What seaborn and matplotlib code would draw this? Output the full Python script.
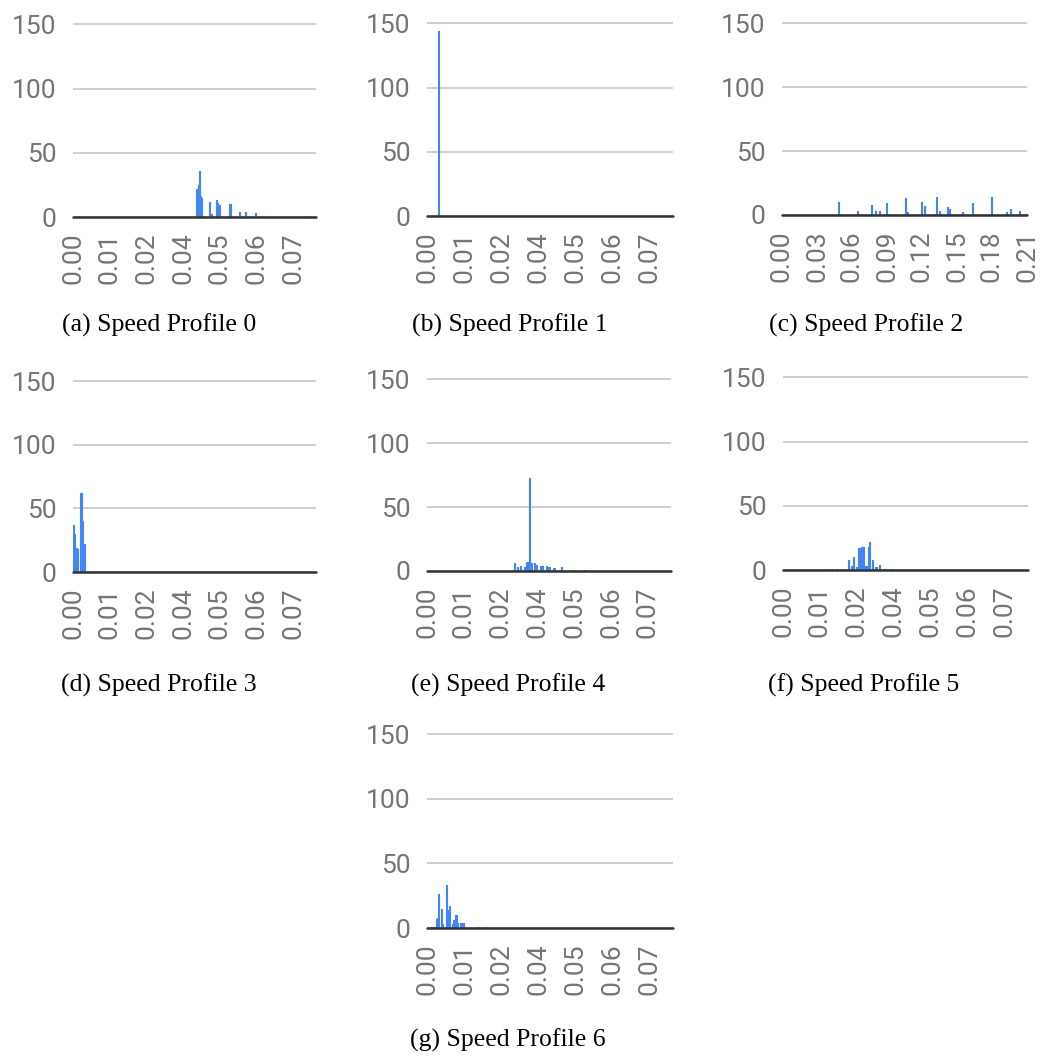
import numpy as np
import pandas as pd
import matplotlib
matplotlib.use("Agg")
import matplotlib.pyplot as plt
import seaborn as sns

# ---------------- data ----------------
captions = ["(a) Speed Profile 0", "(b) Speed Profile 1", "(c) Speed Profile 2",
            "(d) Speed Profile 3", "(e) Speed Profile 4", "(f) Speed Profile 5",
            "(g) Speed Profile 6"]

tick_labels_short = ["0.00", "0.01", "0.02", "0.04", "0.05", "0.06", "0.07"]
tick_labels_wide = ["0.00", "0.03", "0.06", "0.09", "0.12", "0.15", "0.18", "0.21"]
y_ticks = [0, 50, 100, 150]

p0_speed = [0.0405, 0.0409, 0.0413, 0.0417, 0.0421, 0.0446, 0.0452, 0.0469, 0.0473,
            0.0477, 0.0483, 0.0515, 0.0546, 0.0567, 0.0598, 0.0760]
p0_count = [22, 25, 36, 16, 15, 12, 2, 13, 11, 9, 1, 10, 4, 4, 3, 1]

p1_speed = [0.0039]
p1_count = [144]

p2_speed = [0.048, 0.0645, 0.0774, 0.0802, 0.083, 0.0897, 0.106, 0.1075, 0.1195, 0.1218,
            0.1318, 0.1347, 0.142, 0.144, 0.155, 0.164, 0.180, 0.192, 0.1957, 0.2034, 0.209]
p2_count = [10, 3, 8, 3, 3, 9, 13, 2, 10, 7, 14, 3, 6, 5, 2, 9, 14, 2, 5, 3, 1]

p3_speed = [0.0003, 0.0007, 0.0011, 0.0015, 0.0027, 0.0031, 0.0035, 0.0039]
p3_count = [37, 30, 19, 18, 62, 40, 22, 22]

p4_speed = [0.0284, 0.0295, 0.0306, 0.0317, 0.0325, 0.0333, 0.0341, 0.0350, 0.0357,
            0.0368, 0.0379, 0.0390, 0.0399, 0.0412, 0.0439, 0.0477, 0.0515]
p4_count = [6, 3, 4, 3, 7, 73, 6, 6, 5, 4, 4, 4, 3, 2, 3, 1, 1]

p5_speed = [0.0157, 0.0175, 0.0195, 0.0214, 0.0222, 0.0230, 0.0238, 0.0247, 0.0251,
            0.0255, 0.0259, 0.0263, 0.0270, 0.0277, 0.0283, 0.0290, 0.0300, 0.0314,
            0.0330, 0.0350]
p5_count = [1, 1, 1, 8, 3, 10, 2, 17, 17, 18, 18, 18, 3, 18, 22, 8, 2, 4, 1, 1]

p6_speed = [0.0014, 0.0022, 0.0028, 0.0032, 0.0038, 0.0044, 0.0050, 0.0060, 0.0066,
            0.0075, 0.0080, 0.0087, 0.0092, 0.0098, 0.0111, 0.0117, 0.0165, 0.0190]
p6_count = [1, 1, 7, 8, 26, 15, 3, 33, 14, 17, 3, 6, 10, 4, 4, 4, 1, 1]

speeds = [p0_speed, p1_speed, p2_speed, p3_speed, p4_speed, p5_speed, p6_speed]
counts = [p0_count, p1_count, p2_count, p3_count, p4_count, p5_count, p6_count]

# ---------------- style ----------------
sns.set_theme(style="white")
plt.rcParams['font.family'] = ['Roboto', 'DejaVu Sans']

BLUE = "#4285F4"
W, H = 1042, 1061
fig = plt.figure(figsize=(W / 100, H / 100), dpi=100)

# axes pixel rects (left, top, right, bottom)
rects = [(73, 23, 316, 217), (427, 22, 673, 216), (782, 22, 1027, 215),
         (73, 380, 316, 572), (427, 378, 671, 571), (783, 376, 1028, 570),
         (427, 733, 673, 928)]
cap_pos = [(159, 325), (510, 325), (866, 325), (159, 685), (508, 685), (864, 685),
           (508, 1040)]

for i in range(7):
    l, t, r, b = rects[i]
    ax = fig.add_axes([l / W, 1 - b / H, (r - l) / W, (b - t) / H])
    if i == 2:
        xmax, step, labels, bw = 0.21, 0.03, tick_labels_wide, 0.0009
    else:
        xmax, step, labels, bw = 0.0795, 0.012, tick_labels_short, 0.0004
    df = pd.DataFrame({"speed": speeds[i], "count": counts[i]})
    sns.histplot(data=df, x="speed", weights="count", binwidth=bw,
                 binrange=(0, xmax), element="step",
                 fill=True, color=BLUE, alpha=1.0, linewidth=0.8, ax=ax)
    ax.set_xlim(0, xmax)
    ax.set_ylim(0, 151)
    ax.set_yticks(y_ticks)
    ax.set_xticks([k * step for k in range(len(labels))])
    ax.set_xticklabels(labels, rotation=90)
    ax.set_xlabel("")
    ax.set_ylabel("")
    for s in ax.spines.values():
        s.set_visible(False)
    ax.grid(axis="y", color="#cccccc", linewidth=1.3)
    ax.grid(axis="x", visible=False)
    ax.set_axisbelow(True)
    ax.axhline(0, color="#333333", linewidth=1.8, zorder=5, clip_on=False)
    ax.tick_params(axis="both", length=0, labelcolor="#757575", labelsize=19)
    ax.tick_params(axis="y", pad=12)
    ax.tick_params(axis="x", pad=11)
    cx, cy = cap_pos[i]
    fig.text(cx / W, 1 - cy / H, captions[i], ha="center", va="center",
             fontsize=18.5, family="Liberation Serif", color="black")

fig.savefig("out.png", dpi=100)
